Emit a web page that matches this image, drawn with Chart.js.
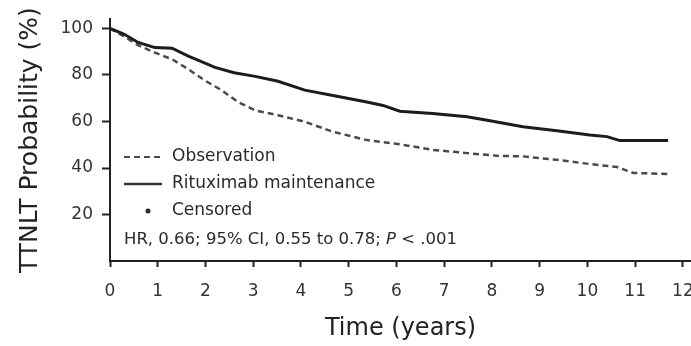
<!DOCTYPE html>
<html>
<head>
<meta charset="utf-8">
<script src="https://cdn.jsdelivr.net/npm/chart.js@4/dist/chart.umd.min.js"></script>
<style>
  html, body { margin: 0; padding: 0; background: #fff; }
  #wrap { width: 691px; height: 346px; }
</style>
</head>
<body>
<div id="wrap"><canvas id="kmChart" width="691" height="346"></canvas></div>
<script>
// Rituximab maintenance curve (years, %)
const ritTimes = [0, 0.3, 0.59, 0.94, 1.3, 1.63, 2.2, 2.6, 3.04, 3.52, 4.08, 4.67, 5.38, 5.72, 6.07, 6.76, 7.48, 7.96, 8.65, 9.36, 10.05, 10.41, 10.68, 11.69];
const ritValues = [100, 97.5, 94, 91.8, 91.5, 88.2, 83.3, 81, 79.4, 77.3, 73.5, 71.2, 68.4, 66.9, 64.4, 63.4, 62, 60.3, 57.7, 56, 54.2, 53.5, 51.8, 51.8];

// Observation curve (years, %)
const obsTimes = [0, 0.3, 0.59, 0.94, 1.3, 1.63, 1.99, 2.35, 2.68, 3.04, 3.52, 4.08, 4.67, 5.38, 6.07, 6.76, 7.48, 8.15, 8.65, 9.36, 10.05, 10.62, 10.96, 11.73];
const obsValues = [100, 96.5, 92.8, 89.6, 86.8, 82.6, 77.6, 73.3, 68.4, 64.8, 62.7, 59.9, 55.6, 52, 50.2, 47.8, 46.4, 45.2, 45, 43.5, 41.7, 40.4, 37.9, 37.4];

const xTicks = [0, 1, 2, 3, 4, 5, 6, 7, 8, 9, 10, 11, 12];
const yTicks = [20, 40, 60, 80, 100];

const legendLabels = ["Observation", "Rituximab maintenance", "Censored"];
const statsText = ["HR, 0.66; 95% CI, 0.55 to 0.78; ", "P", " < .001"];

const FONT = "'DejaVu Sans', sans-serif";

function toPoints(ts, vs) {
    return ts.map((t, i) => ({ x: t, y: vs[i] }));
}

// Legend and stats text drawn inside the plot area
const legendPlugin = {
    id: "kmLegend",
    afterDraw(chart) {
        const ctx = chart.ctx;
        const area = chart.chartArea;
        const x0 = area.left + 14;
        const tx = area.left + 62;
        ctx.save();
        ctx.textBaseline = "middle";
        ctx.font = "17px " + FONT;
        ctx.fillStyle = "#2a2a2a";

        // dashed sample
        ctx.strokeStyle = "#4a4a4a";
        ctx.lineWidth = 2.2;
        ctx.setLineDash([6, 4]);
        ctx.beginPath();
        ctx.moveTo(x0, 157);
        ctx.lineTo(x0 + 38, 157);
        ctx.stroke();
        ctx.fillText(legendLabels[0], tx, 157);

        // solid sample
        ctx.setLineDash([]);
        ctx.strokeStyle = "#333";
        ctx.lineWidth = 2.6;
        ctx.beginPath();
        ctx.moveTo(x0, 184);
        ctx.lineTo(x0 + 38, 184);
        ctx.stroke();
        ctx.fillText(legendLabels[1], tx, 184);

        // censored dot
        ctx.beginPath();
        ctx.arc(x0 + 24, 211, 2.5, 0, Math.PI * 2);
        ctx.fill();
        ctx.fillText(legendLabels[2], tx, 211);

        // HR line
        const hrFont = "16.5px " + FONT;
        ctx.font = hrFont;
        let x = area.left + 14;
        ctx.fillText(statsText[0], x, 240);
        x += ctx.measureText(statsText[0]).width;
        ctx.font = "italic " + hrFont;
        ctx.fillText(statsText[1], x, 240);
        x += ctx.measureText(statsText[1]).width;
        ctx.font = hrFont;
        ctx.fillText(statsText[2], x, 240);
        ctx.restore();
    }
};

new Chart(document.getElementById("kmChart"), {
    type: "line",
    data: {
        datasets: [
            {
                label: "Rituximab maintenance",
                data: toPoints(ritTimes, ritValues),
                borderColor: "#1c1c1c",
                borderWidth: 3,
                pointRadius: 0,
                tension: 0
            },
            {
                label: "Observation",
                data: toPoints(obsTimes, obsValues),
                borderColor: "#4a4a4a",
                borderWidth: 2.5,
                borderDash: [6, 4],
                pointRadius: 0,
                tension: 0
            }
        ]
    },
    options: {
        responsive: false,
        animation: false,
        layout: { padding: 0 },
        plugins: {
            legend: { display: false },
            tooltip: { enabled: false }
        },
        scales: {
            x: {
                type: "linear",
                min: 0,
                max: 12.17,
                afterBuildTicks: (scale) => { scale.ticks = xTicks.map(v => ({ value: v })); },
                afterFit: (scale) => { scale.height = 85; scale.paddingRight = 0; scale.paddingLeft = 0; },
                border: { display: true, color: "#222", width: 2 },
                grid: { drawOnChartArea: false, drawTicks: true, tickLength: 6, tickColor: "#222", tickWidth: 2 },
                ticks: { color: "#333", font: { family: FONT, size: 17 }, padding: 14, maxRotation: 0 },
                title: { display: true, text: "Time (years)", color: "#222", font: { family: FONT, size: 24 }, padding: { top: 4, bottom: 3 } }
            },
            y: {
                min: 0,
                max: 104,
                afterBuildTicks: (scale) => { scale.ticks = yTicks.map(v => ({ value: v })); },
                afterFit: (scale) => { scale.width = 110; },
                border: { display: true, color: "#222", width: 2 },
                grid: { drawOnChartArea: false, drawTicks: true, tickLength: 8, tickColor: "#222", tickWidth: 2 },
                ticks: { color: "#333", font: { family: FONT, size: 17 }, padding: 9 },
                title: { display: true, text: "TTNLT Probability (%)", color: "#222", font: { family: FONT, size: 25 }, padding: { top: 15, bottom: 4 } }
            }
        }
    },
    plugins: [legendPlugin]
});
</script>
</body>
</html>
